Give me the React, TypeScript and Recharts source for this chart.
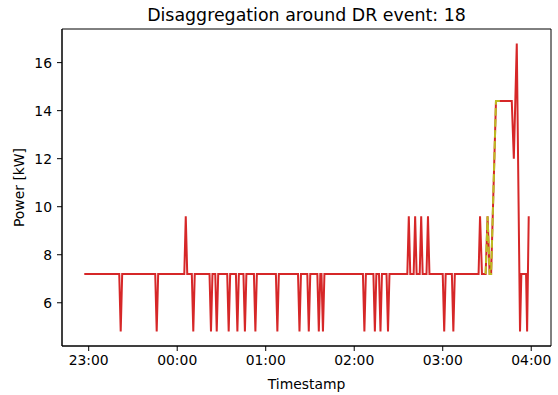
import { LineChart, Line, XAxis, YAxis, Label, ReferenceArea } from 'recharts'

// minutes relative to 23:00, power in kW (vertices)
const totalMinutes = [
  -3, 20.7, 21.7, 22.7, 45.1, 46.1, 47.1, 64.8, 65.8, 66.8,
  69.9, 70.9, 71.9, 81.9, 82.9, 83.9, 85.8, 86.8, 87.8, 93.9,
  94.9, 95.9, 99.8, 100.8, 101.8, 104.9, 105.9, 106.9, 112, 113,
  114, 126.9, 127.9, 128.9, 141.9, 142.9, 143.9, 148.2, 149.2, 150.2,
  155, 156, 157, 157.8, 158.8, 159.8, 185.9, 186.9, 187.9, 193,
  194, 195, 196.8, 197.8, 198.8, 201.9, 202.9, 203.9, 216, 217,
  218, 220.3, 221.3, 222.3, 224.4, 225.4, 226.4, 229, 230, 231,
  240, 241, 242, 246.2, 247.2, 248.2, 264.3, 265.3, 266.6, 269.1,
  270.4, 271.8, 272.8, 276.1, 286.8, 288.2, 290.2, 292.4, 293.3, 296.5,
  297.2, 298.3,
]
const totalPower = [
  7.2, 7.2, 4.8, 7.2, 7.2, 4.8, 7.2, 7.2, 9.6, 7.2,
  7.2, 4.8, 7.2, 7.2, 4.8, 7.2, 7.2, 4.8, 7.2, 7.2,
  4.8, 7.2, 7.2, 4.8, 7.2, 7.2, 4.8, 7.2, 7.2, 4.8,
  7.2, 7.2, 4.8, 7.2, 7.2, 4.8, 7.2, 7.2, 4.8, 7.2,
  7.2, 4.8, 7.2, 7.2, 4.8, 7.2, 7.2, 4.8, 7.2, 7.2,
  4.8, 7.2, 7.2, 4.8, 7.2, 7.2, 4.8, 7.2, 7.2, 9.6,
  7.2, 7.2, 9.6, 7.2, 7.2, 9.6, 7.2, 7.2, 9.6, 7.2,
  7.2, 4.8, 7.2, 7.2, 4.8, 7.2, 7.2, 9.6, 7.2, 7.2,
  9.6, 7.2, 7.2, 14.4, 14.4, 12, 16.8, 4.8, 7.2, 7.2,
  4.8, 9.6,
]

// the dashed segment around the DR event
const eventMinutes = [269.1, 270.4, 271.8, 272.8, 276.1, 279.9]
const eventPower = [7.2, 9.6, 7.2, 7.2, 14.4, 14.4]

const xTicks = [0, 60, 120, 180, 240, 300]
const yTicks = [6, 8, 10, 12, 14, 16]
const xDomain = [-18.1, 313.4]
const yDomain = [4.2, 17.4]

const totalData = totalMinutes.map((t, i) => ({ t, power: totalPower[i] }))
const eventData = eventMinutes.map((t, i) => ({ t, power: eventPower[i] }))

const fmtTime = (m: number) => {
  const h = (23 + Math.floor(m / 60)) % 24
  return `${String(h).padStart(2, '0')}:00`
}

const font = 'DejaVu Sans'
const tickStyle = { fill: '#000', fontSize: 13.9, fontFamily: font }

export default function App() {
  return (
    <div style={{ position: 'relative', width: 558, height: 395, background: '#fff', fontFamily: font }}>
      <style>{'body{margin:0}'}</style>
      <div
        style={{
          position: 'absolute', left: 62, width: 489, top: 4.7, lineHeight: '20px',
          textAlign: 'center', fontSize: 17.4, color: '#000', zIndex: 1,
        }}
      >
        Disaggregation around DR event: 18
      </div>
      <LineChart width={558} height={395} margin={{ top: 29, right: 7, bottom: 0, left: 0 }}>
        <XAxis
          dataKey="t"
          type="number"
          domain={xDomain}
          allowDataOverflow
          ticks={xTicks}
          tickFormatter={fmtTime}
          tick={tickStyle}
          tickSize={5}
          tickMargin={4}
          height={49}
          stroke="#000"
          interval={0}
        >
          <Label value="Timestamp" position="insideBottom" offset={6} style={{ fill: '#000', fontSize: 13.9, fontFamily: font }} />
        </XAxis>
        <YAxis
          type="number"
          domain={yDomain}
          allowDataOverflow
          ticks={yTicks}
          tick={tickStyle}
          tickSize={5}
          tickMargin={5}
          width={62}
          stroke="#000"
        >
          <Label
            value="Power [kW]"
            angle={-90}
            position="insideLeft"
            offset={19}
            style={{ fill: '#000', fontSize: 13.9, fontFamily: font, textAnchor: 'middle' }}
          />
        </YAxis>
        {/* axes frame (top/right spines) */}
        <ReferenceArea
          x1={xDomain[0]}
          x2={xDomain[1]}
          y1={yDomain[0]}
          y2={yDomain[1]}
          fill="none"
          stroke="#000"
          strokeWidth={1}
          ifOverflow="visible"
        />
        <Line
          data={totalData}
          dataKey="power"
          type="linear"
          stroke="#d62728"
          strokeWidth={2}
          dot={false}
          isAnimationActive={false}
        />
        <Line
          data={eventData}
          dataKey="power"
          type="linear"
          stroke="#bcbd22"
          strokeWidth={2}
          strokeDasharray="7.7 3.3"
          dot={false}
          isAnimationActive={false}
        />
      </LineChart>
    </div>
  )
}
